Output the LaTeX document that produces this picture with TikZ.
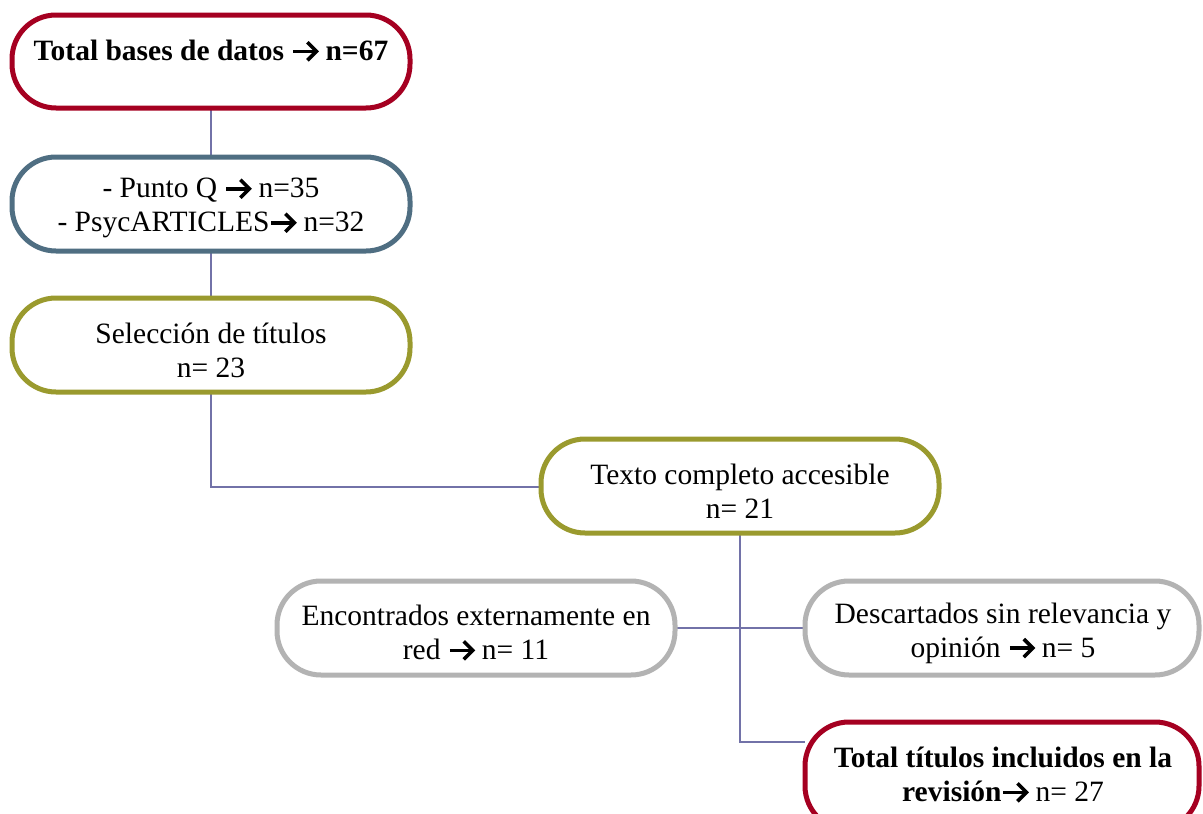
\documentclass[tikz,border=0pt]{standalone}
\usepackage{fontspec}
\setmainfont{Liberation Serif}
\definecolor{cred}{HTML}{A50021}
\definecolor{cblue}{HTML}{4F6E82}
\definecolor{colive}{HTML}{9A9A2E}
\definecolor{cgrey}{HTML}{B3B3B3}
\definecolor{cline}{HTML}{7272A8}
\newcommand{\arr}{\tikz[x=1pt,y=1pt,baseline=0pt]{\draw[line width=3.6pt,line cap=butt] (0,9) -- (22,9); \draw[line width=3.6pt,line join=miter,line cap=butt] (14,18) -- (23,9) -- (14,0);}}
\tikzset{
  pill/.style={draw, line width=5pt, rounded corners=44pt, fill=white},
  lbl/.style={align=center, font=\fontsize{29.5}{34}\selectfont, inner sep=0pt},
  link/.style={draw=cline, line width=1.5pt}
}
\begin{document}
\begin{tikzpicture}[x=1pt,y=-1pt]
\useasboundingbox (0,0) rectangle (1203,814);
\clip (0,0) rectangle (1203,814);
% connectors
\coordinate (c1) at (211,487);
\coordinate (c2) at (740,742);
\draw[link] (211,108) -- (211,157);
\draw[link] (211,251) -- (211,298);
\draw[link] (211,392) -- (c1) -- (541,487);
\draw[link] (740,533) -- (c2) -- (805,742);
\draw[link] (675,628) -- (805,628);
% boxes
\path[pill, draw=cred] (12,15) rectangle (410,108);
\path[pill, draw=cblue] (12,157) rectangle (410,251);
\path[pill, draw=colive] (12,298) rectangle (410,392);
\path[pill, draw=colive] (541,439) rectangle (939,533);
\path[pill, draw=cgrey] (277,581) rectangle (675,675);
\path[pill, draw=cgrey] (805,581) rectangle (1199,675);
\path[pill, draw=cred] (805,722) rectangle (1199,830);
% texts
\node[lbl, font=\fontsize{29.5}{34}\selectfont\bfseries] (t1) at (211,51) {Total bases de datos \arr\ n=67};
\node[lbl] (t2) at (211,208) {- Punto Q \arr\ n=35\\- PsycARTICLES\arr\ n=32};
\node[lbl] (t3) at (211,350) {Selección de títulos\\n= 23};
\node[lbl] (t4) at (740,491) {Texto completo accesible\\n= 21};
\node[lbl] (t5) at (476,633) {Encontrados externamente en\\red \arr\ n= 11};
\node[lbl] (t6) at (1003,633) {Descartados sin relevancia y\\opinión \arr\ n= 5};
\node[lbl] (t7) at (1003,775) {\textbf{Total títulos incluidos en la}\\\textbf{revisión}\arr\ n= 27};
\end{tikzpicture}
\end{document}
